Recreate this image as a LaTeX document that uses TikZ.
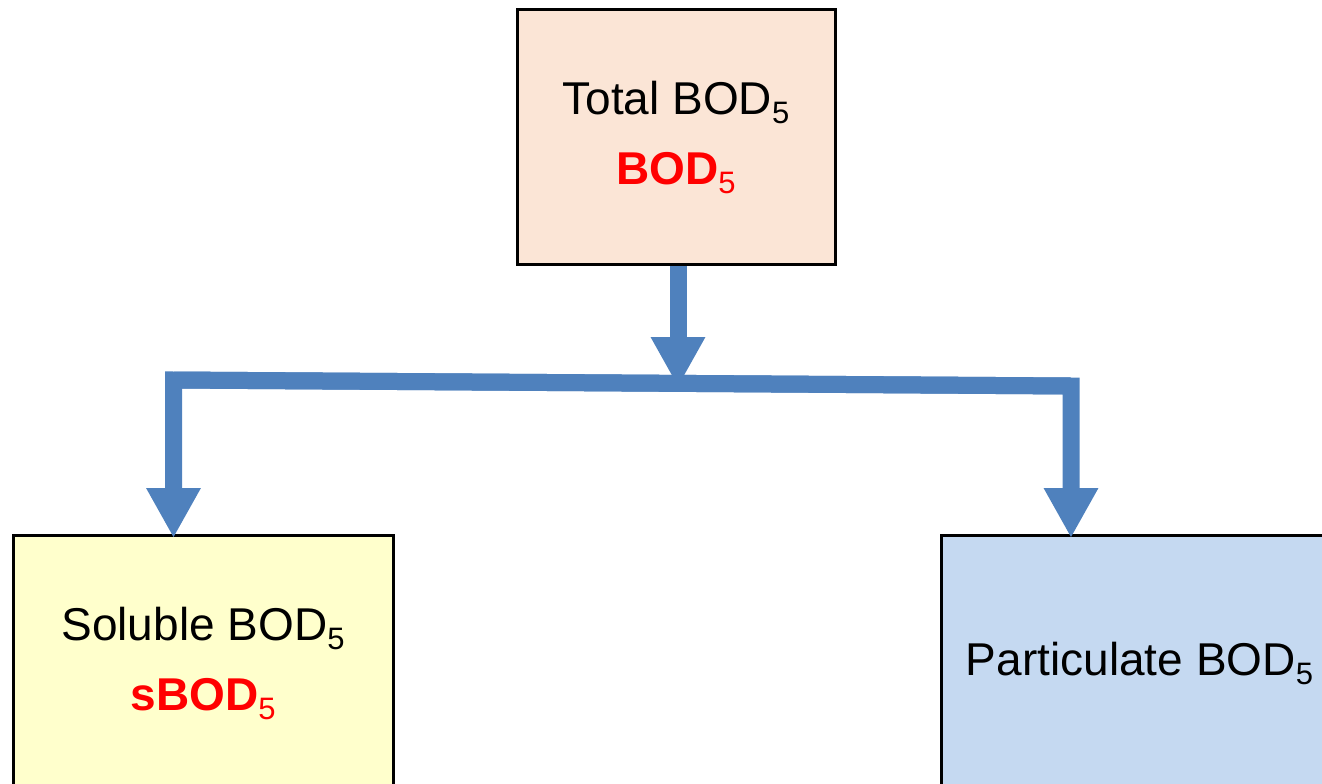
\documentclass[tikz,border=0pt]{standalone}
\usepackage{fontspec}
\setmainfont{Liberation Sans}
\usetikzlibrary{arrows.meta}
\definecolor{peach}{HTML}{FBE5D6}
\definecolor{paleyellow}{HTML}{FFFFCC}
\definecolor{paleblue}{HTML}{C5D9F1}
\definecolor{arrowblue}{HTML}{4F81BD}
\definecolor{boldred}{HTML}{FF0000}
\newcommand{\subfive}{\raisebox{-9pt}{\fontsize{31}{31}\selectfont\mdseries 5}}
\tikzset{
  box/.style={draw=black, line width=3pt, inner sep=0pt, minimum height=255pt, align=center,
    font=\fontsize{46}{70}\selectfont},
  conn/.style={draw=arrowblue, line width=17pt, line join=miter},
  tip/.style={-{Triangle[width=51pt,length=50pt]}, shorten >=-4pt},
  hl/.style={text=boldred, font=\bfseries}
}
\begin{document}
\begin{tikzpicture}[x=1pt, y=-1pt]
\useasboundingbox (0,0) rectangle (1322,784);
\clip (0,0) rectangle (1322,784);
\node[box, fill=peach, minimum width=318pt] (top) at (676,137)
  {Total BOD\subfive\\ {\color{boldred}\bfseries BOD\subfive}};
\node[box, fill=paleyellow, minimum width=380pt] (sol) at (203,663)
  {Soluble BOD\subfive\\ {\color{boldred}\bfseries sBOD\subfive}};
\node[box, fill=paleblue, minimum width=397pt] (par) at (1139.5,663)
  {Particulate BOD\subfive};
\coordinate (jl) at (173.5,380);
\coordinate (jm) at (678,383);
\coordinate (jr) at (1071,386);
\draw[conn, tip] (top.south -| jm) -- (jm);
\draw[conn, tip] (jr) -- (jl) -- (sol.north -| jl);
\draw[conn, tip] (jl) -- (jr) -- (par.north -| jr);
\end{tikzpicture}
\end{document}
